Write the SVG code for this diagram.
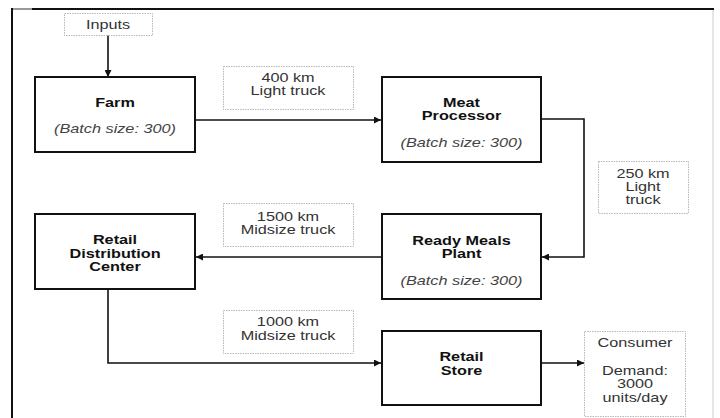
<svg xmlns="http://www.w3.org/2000/svg" width="720" height="418" viewBox="0 0 720 418">
<style>
.node{fill:#fff;stroke:#111;stroke-width:2}
.lbl{fill:#fff;stroke:#b8b8b8;stroke-width:1;stroke-dasharray:1.5 1}
.conn{fill:none;stroke:#111;stroke-width:1.6}
text{font-family:"Liberation Sans",Arial,sans-serif;font-size:12.5px;text-anchor:middle;fill:#333}
.b{font-weight:bold;fill:#111}
.i{font-style:italic;fill:#444}
</style>
<defs>
<marker id="ah" viewBox="0 0 10 10" refX="10" refY="5" markerWidth="8" markerHeight="7" markerUnits="userSpaceOnUse" orient="auto">
<path d="M0,0 L10,5 L0,10 z" fill="#111"/>
</marker>
</defs>
<rect width="720" height="418" fill="#fff"/>
<g id="frame">
<line x1="12" y1="9" x2="32" y2="9" stroke="#999" stroke-width="2"/>
<line x1="32" y1="9" x2="714" y2="9" stroke="#111" stroke-width="2"/>
<line x1="12" y1="8" x2="12" y2="418" stroke="#111" stroke-width="2"/>
<line x1="713" y1="10" x2="713" y2="418" stroke="#ccc" stroke-width="1"/>
</g>
<g id="connectors">
<line class="conn" x1="108" y1="35" x2="108" y2="77" marker-end="url(#ah)"/>
<line class="conn" x1="195" y1="120" x2="381" y2="120" marker-end="url(#ah)"/>
<polyline class="conn" points="541,119 584,119 584,257 542,257" marker-end="url(#ah)"/>
<line class="conn" x1="382" y1="257" x2="196" y2="257" marker-end="url(#ah)"/>
<polyline class="conn" points="108,289 108,363 381,363" marker-end="url(#ah)"/>
<line class="conn" x1="541" y1="363" x2="584" y2="363" marker-end="url(#ah)"/>
</g>
<g id="inputs">
<rect class="lbl" x="64.5" y="13.5" width="88" height="22"/>
<text transform="matrix(1.3,0,0,1,108,29)">Inputs</text>
</g>
<g id="farm">
<rect class="node" x="35" y="77" width="160" height="75"/>
<text class="b" transform="matrix(1.3,0,0,1,115,107)">Farm</text>
<text class="i" transform="matrix(1.3,0,0,1,115,133)">(Batch size: 300)</text>
</g>
<g id="label400">
<rect class="lbl" x="223.5" y="66.5" width="130" height="43"/>
<text transform="matrix(1.3,0,0,1,288,82)">400 km</text>
<text transform="matrix(1.3,0,0,1,288,95)">Light truck</text>
</g>
<g id="meat">
<rect class="node" x="382" y="77" width="159" height="85"/>
<text class="b" transform="matrix(1.3,0,0,1,461.5,107)">Meat</text>
<text class="b" transform="matrix(1.3,0,0,1,461.5,120)">Processor</text>
<text class="i" transform="matrix(1.3,0,0,1,461.5,147)">(Batch size: 300)</text>
</g>
<g id="label250">
<rect class="lbl" x="598.5" y="161.5" width="90" height="52"/>
<text transform="matrix(1.3,0,0,1,643,178)">250 km</text>
<text transform="matrix(1.3,0,0,1,643,191)">Light</text>
<text transform="matrix(1.3,0,0,1,643,204)">truck</text>
</g>
<g id="label1500">
<rect class="lbl" x="223.5" y="203.5" width="130" height="43"/>
<text transform="matrix(1.3,0,0,1,288,221)">1500 km</text>
<text transform="matrix(1.3,0,0,1,288,234)">Midsize truck</text>
</g>
<g id="readymeals">
<rect class="node" x="382" y="214" width="159" height="85"/>
<text class="b" transform="matrix(1.3,0,0,1,461.5,245)">Ready Meals</text>
<text class="b" transform="matrix(1.3,0,0,1,461.5,258)">Plant</text>
<text class="i" transform="matrix(1.3,0,0,1,461.5,285)">(Batch size: 300)</text>
</g>
<g id="rdc">
<rect class="node" x="35" y="214" width="160" height="75"/>
<text class="b" transform="matrix(1.3,0,0,1,115,244)">Retail</text>
<text class="b" transform="matrix(1.3,0,0,1,115,258)">Distribution</text>
<text class="b" transform="matrix(1.3,0,0,1,115,271)">Center</text>
</g>
<g id="label1000">
<rect class="lbl" x="223.5" y="310.5" width="130" height="43"/>
<text transform="matrix(1.3,0,0,1,288,326)">1000 km</text>
<text transform="matrix(1.3,0,0,1,288,340)">Midsize truck</text>
</g>
<g id="retailstore">
<rect class="node" x="382" y="331" width="159" height="74"/>
<text class="b" transform="matrix(1.3,0,0,1,461.5,361)">Retail</text>
<text class="b" transform="matrix(1.3,0,0,1,461.5,375)">Store</text>
</g>
<g id="consumer">
<rect class="lbl" x="584.5" y="331.5" width="101" height="85"/>
<text transform="matrix(1.3,0,0,1,635,347)">Consumer</text>
<text transform="matrix(1.3,0,0,1,635,375)">Demand:</text>
<text transform="matrix(1.3,0,0,1,635,388)">3000</text>
<text transform="matrix(1.3,0,0,1,635,402)">units/day</text>
</g>
</svg>
